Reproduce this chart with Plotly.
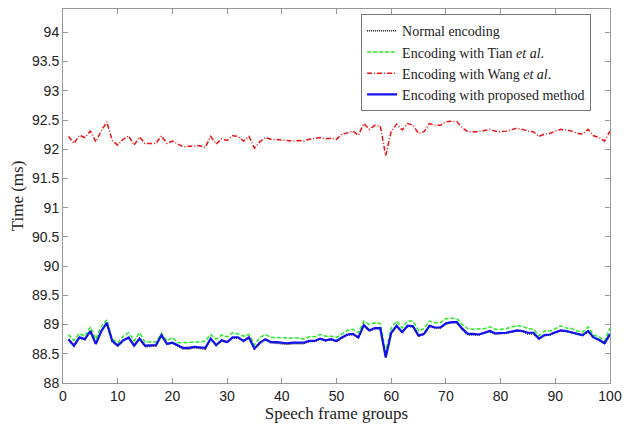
import plotly.graph_objects as go

frames = list(range(1, 101))

proposed = [
    88.75, 88.64, 88.78, 88.75, 88.89, 88.67, 88.89, 89.03, 88.72, 88.64,
    88.73, 88.78, 88.64, 88.76, 88.64, 88.64, 88.65, 88.82, 88.67, 88.69,
    88.64, 88.60, 88.60, 88.62, 88.61, 88.60, 88.76, 88.65, 88.73, 88.70,
    88.78, 88.78, 88.72, 88.78, 88.59, 88.69, 88.75, 88.70, 88.70, 88.69,
    88.68, 88.69, 88.69, 88.69, 88.72, 88.72, 88.76, 88.73, 88.75, 88.72,
    88.78, 88.83, 88.84, 88.78, 88.99, 88.90, 88.94, 88.94, 88.44, 88.86,
    88.98, 88.87, 88.98, 88.97, 88.81, 88.84, 88.98, 88.95, 88.95, 89.02,
    89.04, 89.04, 88.93, 88.84, 88.84, 88.83, 88.86, 88.89, 88.85, 88.85,
    88.86, 88.88, 88.90, 88.89, 88.86, 88.86, 88.76, 88.82, 88.83, 88.87,
    88.90, 88.89, 88.87, 88.85, 88.82, 88.89, 88.78, 88.74, 88.68, 88.84,
]

normal = [
    88.74, 88.63, 88.77, 88.74, 88.88, 88.66, 88.88, 89.02, 88.71, 88.63,
    88.72, 88.77, 88.63, 88.75, 88.62, 88.62, 88.63, 88.81, 88.66, 88.68,
    88.63, 88.58, 88.58, 88.60, 88.59, 88.58, 88.75, 88.64, 88.72, 88.69,
    88.77, 88.77, 88.71, 88.77, 88.58, 88.68, 88.74, 88.69, 88.68, 88.67,
    88.66, 88.67, 88.67, 88.67, 88.71, 88.71, 88.75, 88.72, 88.74, 88.71,
    88.77, 88.82, 88.83, 88.77, 88.98, 88.89, 88.93, 88.93, 88.43, 88.85,
    88.97, 88.86, 88.97, 88.96, 88.80, 88.83, 88.97, 88.94, 88.94, 89.01,
    89.03, 89.03, 88.91, 88.82, 88.82, 88.82, 88.85, 88.88, 88.84, 88.84,
    88.85, 88.87, 88.89, 88.88, 88.84, 88.84, 88.75, 88.81, 88.82, 88.86,
    88.89, 88.88, 88.86, 88.84, 88.81, 88.88, 88.77, 88.73, 88.67, 88.83,
]

tian = [
    88.83, 88.73, 88.85, 88.80, 88.96, 88.75, 88.97, 89.08, 88.75, 88.69,
    88.80, 88.86, 88.72, 88.86, 88.70, 88.70, 88.70, 88.85, 88.72, 88.78,
    88.69, 88.69, 88.70, 88.70, 88.70, 88.72, 88.83, 88.75, 88.82, 88.79,
    88.86, 88.84, 88.80, 88.83, 88.65, 88.78, 88.83, 88.78, 88.78, 88.77,
    88.77, 88.77, 88.77, 88.75, 88.79, 88.79, 88.83, 88.80, 88.80, 88.78,
    88.84, 88.90, 88.92, 88.86, 89.06, 89.00, 89.03, 89.02, 88.53, 88.94,
    89.06, 88.94, 89.06, 89.06, 88.89, 88.93, 89.06, 89.03, 89.03, 89.10,
    89.11, 89.10, 89.00, 88.93, 88.92, 88.92, 88.93, 88.96, 88.92, 88.92,
    88.93, 88.96, 88.98, 88.97, 88.93, 88.92, 88.81, 88.89, 88.89, 88.93,
    88.98, 88.94, 88.93, 88.89, 88.87, 88.96, 88.82, 88.79, 88.72, 88.94,
]

wang = [
    92.22, 92.10, 92.24, 92.20, 92.31, 92.13, 92.31, 92.47, 92.15, 92.07,
    92.17, 92.23, 92.07, 92.21, 92.10, 92.10, 92.10, 92.23, 92.10, 92.14,
    92.09, 92.04, 92.05, 92.06, 92.06, 92.03, 92.22, 92.09, 92.18, 92.15,
    92.23, 92.22, 92.14, 92.22, 92.02, 92.13, 92.20, 92.17, 92.17, 92.16,
    92.15, 92.14, 92.15, 92.14, 92.17, 92.18, 92.20, 92.18, 92.19, 92.17,
    92.26, 92.28, 92.31, 92.24, 92.44, 92.34, 92.41, 92.40, 91.89, 92.31,
    92.43, 92.33, 92.44, 92.41, 92.27, 92.30, 92.44, 92.41, 92.41, 92.47,
    92.48, 92.47, 92.37, 92.30, 92.30, 92.30, 92.32, 92.34, 92.31, 92.30,
    92.31, 92.34, 92.36, 92.34, 92.31, 92.30, 92.22, 92.26, 92.27, 92.31,
    92.34, 92.33, 92.31, 92.27, 92.26, 92.34, 92.23, 92.20, 92.14, 92.31,
]

names = [
    "Normal encoding",
    "Encoding with Tian <i>et al</i>.",
    "Encoding with Wang <i>et al</i>.",
    "Encoding with proposed method",
]

x_ticks = list(range(0, 101, 10))
y_ticks = [88, 88.5, 89, 89.5, 90, 90.5, 91, 91.5, 92, 92.5, 93, 93.5, 94]
y_tick_text = ["88", "88.5", "89", "89.5", "90", "90.5", "91", "91.5", "92", "92.5", "93", "93.5", "94"]

fig = go.Figure()
fig.add_trace(go.Scatter(x=frames, y=normal, name=names[0], mode="lines",
                         line=dict(color="#111111", width=1.5, dash="1px,1px")))
fig.add_trace(go.Scatter(x=frames, y=tian, name=names[1], mode="lines",
                         line=dict(color="#22ee22", width=1.5, dash="4px,2px")))
fig.add_trace(go.Scatter(x=frames, y=wang, name=names[2], mode="lines",
                         line=dict(color="#ee1111", width=1.5, dash="5px,2px,1px,2px")))
fig.add_trace(go.Scatter(x=frames, y=proposed, name=names[3], mode="lines",
                         line=dict(color="#1111ee", width=2.2)))

axis_common = dict(
    showgrid=False, zeroline=False, showline=True, linecolor="#999999", linewidth=1,
    mirror="ticks", ticks="inside", ticklen=5, tickcolor="#999999",
    tickfont=dict(family="Liberation Sans, Arial", size=14, color="#222222"),
)

fig.update_layout(
    width=630, height=426,
    paper_bgcolor="white", plot_bgcolor="white",
    margin=dict(l=63, r=19, t=8, b=38),
    showlegend=True,
    legend=dict(
        x=0.545, y=0.986, xanchor="left", yanchor="top",
        bgcolor="white", bordercolor="#777777", borderwidth=1,
        font=dict(family="Liberation Serif, Times New Roman", size=14, color="#222222"),
        tracegroupgap=0, itemwidth=30,
    ),
    xaxis=dict(range=[0, 100], tickvals=x_ticks,
               title=dict(text="Speech frame groups", standoff=2,
                          font=dict(family="Liberation Serif, Times New Roman", size=17, color="#222222")),
               **axis_common),
    yaxis=dict(range=[88, 94.4], tickvals=y_ticks, ticktext=y_tick_text,
               title=dict(text="Time (ms)", standoff=4,
                          font=dict(family="Liberation Serif, Times New Roman", size=17, color="#222222")),
               **axis_common),
)

fig.write_html("out.html", config={"displayModeBar": False},
               post_script="document.body.style.margin='0';document.body.style.padding='0';document.body.style.overflow='hidden';")
